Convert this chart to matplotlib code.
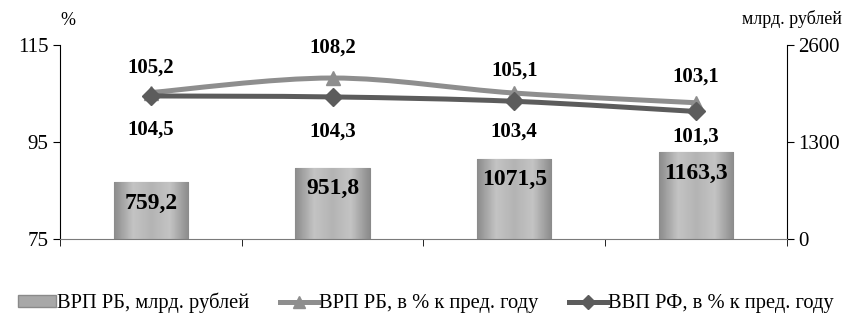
import numpy as np
import matplotlib.pyplot as plt
from matplotlib.path import Path
from matplotlib.patches import PathPatch, Patch
from matplotlib.lines import Line2D
from matplotlib.colors import LinearSegmentedColormap

plt.rcParams['font.family'] = ['Liberation Serif', 'DejaVu Serif']

# данные
years = ['2010 год', '2011 год', '2012 год', '2013 год']
vrp_rub = [759.2, 951.8, 1071.5, 1163.3]      # млрд. рублей
vrp_pct = [105.2, 108.2, 105.1, 103.1]        # ВРП РБ, % к пред. году
vvp_pct = [104.5, 104.3, 103.4, 101.3]        # ВВП РФ, % к пред. году

# смещения подписей (пт), как в исходной диаграмме
up_off = [18, 22, 16.5, 18.5]
down_off = [-24.5, -25, -21.5, -18]

def fmt(v):
    return f'{v:.1f}'.replace('.', ',')

def smooth_path(xs, ys, t=1/6):
    # кривая Безье через точки (как сглаженная линия в Excel)
    pts = list(zip(xs, ys))
    verts = [pts[0]]
    codes = [Path.MOVETO]
    for i in range(len(pts) - 1):
        p0 = pts[i - 1] if i > 0 else pts[i]
        p1, p2 = pts[i], pts[i + 1]
        p3 = pts[i + 2] if i + 2 < len(pts) else pts[i + 1]
        c1 = (p1[0] + (p2[0] - p0[0]) * t, p1[1] + (p2[1] - p0[1]) * t)
        c2 = (p2[0] - (p3[0] - p1[0]) * t, p2[1] - (p3[1] - p1[1]) * t)
        verts += [c1, c2, p2]
        codes += [Path.CURVE4] * 3
    return Path(verts, codes)

fig = plt.figure(figsize=(8.52, 3.19), dpi=100)
ax = fig.add_axes([0.0704, 0.2508, 0.853, 0.608])
ax2 = ax.twinx()
ax.set_zorder(ax2.get_zorder() + 1)
ax.patch.set_visible(False)

x = np.arange(len(years))
ax.set_xlim(-0.5, len(years) - 0.5)
ax.set_ylim(75, 115)
ax2.set_ylim(0, 2600)

# столбцы (правая ось)
bars = ax2.bar(x, vrp_rub, width=0.41, color='#a8a8a8', edgecolor='#8a8a8a', linewidth=0.8, zorder=2)
cmap = LinearSegmentedColormap.from_list('bev', ['#8c8c8c', '#c4c4c4', '#b4b4b4', '#c4c4c4', '#8c8c8c'])
grad = np.linspace(0, 1, 64).reshape(1, -1)
for b in bars:
    x0, y0 = b.get_x(), b.get_y()
    im = ax2.imshow(grad, cmap=cmap, aspect='auto', extent=(x0, x0 + b.get_width(), y0, y0 + b.get_height()),
                    zorder=2.1)
    im.set_clip_path(b)
ax2.set_xlim(-0.5, len(years) - 0.5)
ax2.set_ylim(0, 2600)
for xi, v in zip(x, vrp_rub):
    ax2.annotate(fmt(v), (xi, v), xytext=(0, -15), textcoords='offset points',
                 ha='center', va='center', fontsize=17, fontweight='bold', zorder=5)

# линии (левая ось)
c_vrp = '#8e8e8e'
c_vvp = '#5c5c5c'
ax.add_patch(PathPatch(smooth_path(x, vrp_pct), facecolor='none', edgecolor=c_vrp, lw=3.6, zorder=3))
ax.plot(x, vrp_pct, ls='none', marker='^', ms=10, color=c_vrp, zorder=3.5)
ax.add_patch(PathPatch(smooth_path(x, vvp_pct), facecolor='none', edgecolor=c_vvp, lw=3.6, zorder=4))
ax.plot(x, vvp_pct, ls='none', marker='D', ms=9, color=c_vvp, zorder=4.5)

for xi, v, o in zip(x, vrp_pct, up_off):
    ax.annotate(fmt(v), (xi, v), xytext=(0, o), textcoords='offset points',
                ha='center', va='center', fontsize=15, fontweight='bold')
for xi, v, o in zip(x, vvp_pct, down_off):
    ax.annotate(fmt(v), (xi, v), xytext=(0, o), textcoords='offset points',
                ha='center', va='center', fontsize=15, fontweight='bold')

# оси
ax.set_yticks([75, 95, 115])
ax2.set_yticks([0, 1300, 2600])
ax.set_xticks(x)
ax.set_xticklabels(years)
ax.set_xticks(np.arange(-0.5, len(years)), minor=True)
ax.tick_params(axis='x', which='major', length=0, labelsize=15.5, pad=11)
ax.tick_params(axis='x', which='minor', length=5, direction='out')
ax.tick_params(axis='y', labelsize=15, length=5, direction='out')
ax2.tick_params(axis='y', labelsize=15, length=5, direction='out')
ax2.set_xticks([])
for a in (ax, ax2):
    a.spines['top'].set_visible(False)
ax.spines['bottom'].set_color('#7a7a7a')
ax2.spines['bottom'].set_visible(False)
ax.spines['right'].set_visible(False)
ax2.spines['left'].set_visible(False)

fig.text(0.080, 0.935, '%', fontsize=13, ha='center', va='center')
fig.text(0.930, 0.940, 'млрд. рублей', fontsize=13, ha='center', va='center')

handles = [
    Patch(facecolor='#a8a8a8', edgecolor='#8a8a8a', label='ВРП РБ, млрд. рублей'),
    Line2D([], [], color=c_vrp, lw=3.6, marker='^', ms=8, label='ВРП РБ, в % к пред. году'),
    Line2D([], [], color=c_vvp, lw=3.6, marker='D', ms=7, label='ВВП РФ, в % к пред. году'),
]
fig.legend(handles=handles, loc='center', bbox_to_anchor=(0.5, 0.05), ncol=3, frameon=False,
           fontsize=14.8, handlelength=1.85, handleheight=0.45, handletextpad=0.05, columnspacing=1.5)

fig.savefig('out.png', dpi=100)
